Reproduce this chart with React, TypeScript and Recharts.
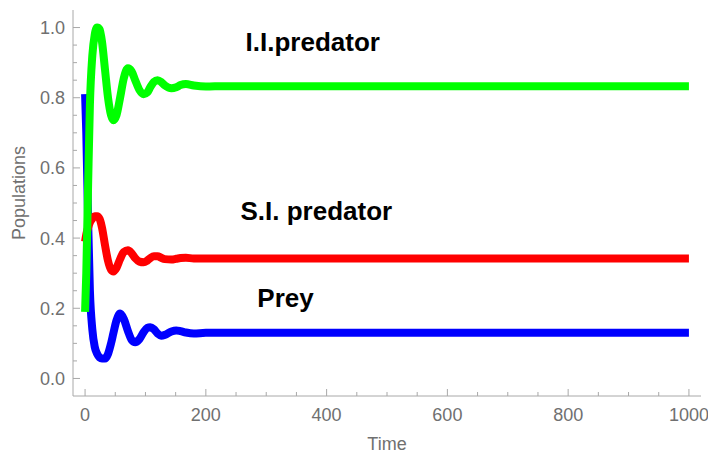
import React from 'react';
import { LineChart, Line, XAxis, YAxis, ReferenceDot } from 'recharts';

// time points of the solution
const time = [0, 2, 5, 8, 12, 16, 20, 24, 28, 33, 38, 43, 47, 52, 58, 64, 71, 77, 83, 90, 97, 103, 108, 114, 120, 126, 132, 143, 151, 158, 167, 180, 200, 230, 300, 450, 600, 800, 1000];

const prey = [0.81, 0.7, 0.45, 0.25, 0.14, 0.09, 0.07, 0.06, 0.057, 0.057, 0.07, 0.1, 0.13, 0.165, 0.185, 0.17, 0.135, 0.11, 0.103, 0.112, 0.132, 0.144, 0.146, 0.14, 0.128, 0.122, 0.124, 0.134, 0.137, 0.135, 0.131, 0.128, 0.13, 0.13, 0.13, 0.13, 0.13, 0.13, 0.13];

const siPredator = [0.39, 0.41, 0.43, 0.445, 0.455, 0.462, 0.462, 0.455, 0.43, 0.38, 0.335, 0.31, 0.305, 0.315, 0.34, 0.36, 0.365, 0.357, 0.343, 0.333, 0.331, 0.336, 0.343, 0.348, 0.348, 0.344, 0.34, 0.339, 0.341, 0.343, 0.344, 0.342, 0.342, 0.342, 0.342, 0.342, 0.342, 0.342, 0.342];

const iiPredator = [0.19, 0.3, 0.55, 0.78, 0.92, 0.98, 1.0, 0.995, 0.96, 0.88, 0.8, 0.75, 0.736, 0.75, 0.8, 0.855, 0.884, 0.875, 0.85, 0.822, 0.81, 0.815, 0.83, 0.845, 0.85, 0.845, 0.835, 0.827, 0.83, 0.836, 0.839, 0.835, 0.832, 0.833, 0.833, 0.833, 0.833, 0.833, 0.833];

const xTicks = [0, 50, 100, 150, 200, 250, 300, 350, 400, 450, 500, 550, 600, 650, 700, 750, 800, 850, 900, 950, 1000];
const xLabels = [0, 200, 400, 600, 800, 1000];
const yTicks = [0, 0.05, 0.1, 0.15, 0.2, 0.25, 0.3, 0.35, 0.4, 0.45, 0.5, 0.55, 0.6, 0.65, 0.7, 0.75, 0.8, 0.85, 0.9, 0.95, 1.0];
const yLabels = ['0.0', '0.2', '0.4', '0.6', '0.8', '1.0'];

const data = time.map((t, i) => ({ t, prey: prey[i], si: siPredator[i], ii: iiPredator[i] }));

const FRAME = '#a8a8a8';
const TEXT = '#707070';

const isMajorX = (v: number) => xLabels.includes(v);
const yLabel = (v: number) => yLabels.find((l) => Math.abs(parseFloat(l) - v) < 1e-6);

const BottomTick = ({ x, y, payload }: any) => {
  const major = isMajorX(payload.value);
  return (
    <g>
      <line x1={x} x2={x} y1={y} y2={y - (major ? 7 : 4)} stroke={FRAME} />
      {major && (
        <text x={x} y={y + 25} textAnchor="middle" fill={TEXT} fontSize={18}>
          {payload.value}
        </text>
      )}
    </g>
  );
};

const TopTick = ({ x, y, payload }: any) => {
  const major = isMajorX(payload.value);
  return <line x1={x} x2={x} y1={y} y2={y + (major ? 7 : 4)} stroke={FRAME} />;
};

const LeftTick = ({ x, y, payload }: any) => {
  const lab = yLabel(payload.value);
  return (
    <g>
      <line x1={x} x2={x + (lab ? 7 : 4)} y1={y} y2={y} stroke={FRAME} />
      {lab && (
        <text x={x - 8} y={y + 6.5} textAnchor="end" fill={TEXT} fontSize={18}>
          {lab}
        </text>
      )}
    </g>
  );
};

const RightTick = ({ x, y, payload }: any) => {
  const lab = yLabel(payload.value);
  return <line x1={x} x2={x - (lab ? 7 : 4)} y1={y} y2={y} stroke={FRAME} />;
};

const note = { position: 'center' as const, fill: '#000', fontSize: 26, fontWeight: 'bold' };

export default function App() {
  return (
    <div style={{ position: 'absolute', left: 0, top: 0, background: '#fff' }}>
      <LineChart
        width={708}
        height={459}
        data={data}
        margin={{ top: 10, right: 7, bottom: 0, left: 0 }}
        style={{ fontFamily: '"Liberation Sans", Arial, sans-serif' }}
      >
        <XAxis
          dataKey="t"
          type="number"
          domain={[-20, 1020]}
          allowDataOverflow
          ticks={xTicks}
          interval={0}
          height={63}
          tickSize={0}
          tickMargin={0}
          tickLine={false}
          axisLine={{ stroke: FRAME }}
          tick={<BottomTick />}
          label={{
            content: ({ viewBox }: any) => (
              <text x={viewBox.x + viewBox.width / 2} y={viewBox.y + 54} textAnchor="middle" fill={TEXT} fontSize={18}>
                Time
              </text>
            ),
          }}
        />
        <XAxis
          xAxisId="top"
          orientation="top"
          dataKey="t"
          type="number"
          domain={[-20, 1020]}
          allowDataOverflow
          ticks={xTicks}
          interval={0}
          height={0}
          tickSize={0}
          tickMargin={0}
          tickLine={false}
          axisLine={{ stroke: FRAME }}
          tick={<TopTick />}
        />
        <YAxis
          type="number"
          domain={[-0.05, 1.05]}
          allowDataOverflow
          ticks={yTicks}
          interval={0}
          width={73}
          tickSize={0}
          tickMargin={0}
          tickLine={false}
          axisLine={{ stroke: FRAME }}
          tick={<LeftTick />}
          label={{
            content: ({ viewBox }: any) => (
              <text
                transform={`translate(${viewBox.x + 25}, ${viewBox.y + viewBox.height / 2 - 10}) rotate(-90)`}
                textAnchor="middle"
                fill={TEXT}
                fontSize={18}
              >
                Populations
              </text>
            ),
          }}
        />
        <YAxis
          yAxisId="right"
          orientation="right"
          type="number"
          domain={[-0.05, 1.05]}
          allowDataOverflow
          ticks={yTicks}
          interval={0}
          width={0}
          tickSize={0}
          tickMargin={0}
          tickLine={false}
          axisLine={{ stroke: FRAME }}
          tick={<RightTick />}
        />
        <Line type="monotone" dataKey="prey" stroke="#0000ff" strokeWidth={8} dot={false} activeDot={false} isAnimationActive={false} strokeLinejoin="round" />
        <Line type="monotone" dataKey="si" stroke="#ff0000" strokeWidth={8} dot={false} activeDot={false} isAnimationActive={false} strokeLinejoin="round" />
        <Line type="monotone" dataKey="ii" stroke="#00ff00" strokeWidth={8} dot={false} activeDot={false} isAnimationActive={false} strokeLinejoin="round" />
        <ReferenceDot x={377} y={0.96} r={0} stroke="none" label={{ ...note, value: 'I.I.predator' }} />
        <ReferenceDot x={383} y={0.477} r={0} stroke="none" label={{ ...note, value: 'S.I. predator' }} />
        <ReferenceDot x={332} y={0.23} r={0} stroke="none" label={{ ...note, value: 'Prey' }} />
      </LineChart>
    </div>
  );
}
